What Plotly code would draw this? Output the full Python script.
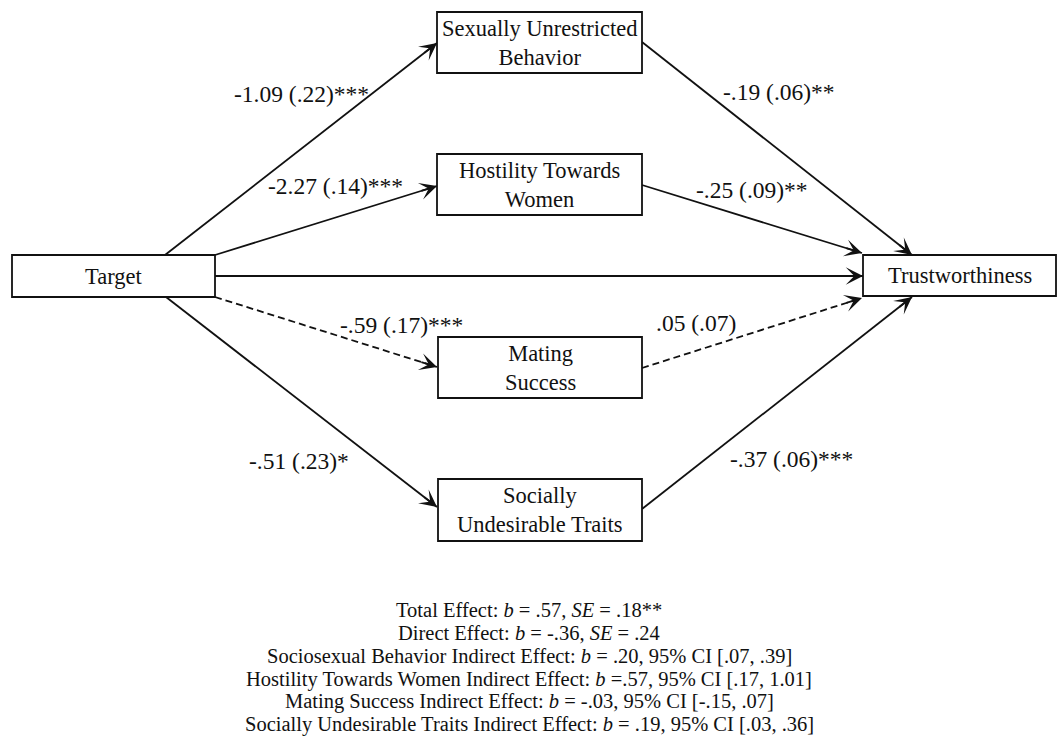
import plotly.graph_objects as go

# ---------------- data ----------------
node_names = ["Target", "Sexually Unrestricted<br>Behavior", "Hostility Towards<br>Women",
              "Mating<br>Success", "Socially<br>Undesirable Traits", "Trustworthiness"]
node_keys = ["T", "SUB", "HTW", "MS", "SUT", "TW"]

edge_from = ["T", "T", "T", "T", "T", "SUB", "HTW", "MS", "SUT"]
edge_to = ["SUB", "HTW", "TW", "MS", "SUT", "TW", "TW", "TW", "TW"]
edge_significant = [True, True, True, False, True, True, True, False, True]

path_labels = ["-1.09 (.22)***", "-2.27 (.14)***", "-.59 (.17)***", "-.51 (.23)*",
               "-.19 (.06)**", "-.25 (.09)**", ".05 (.07)", "-.37 (.06)***"]

effect_lines = [
    "Total Effect: <i>b</i> = .57, <i>SE</i> = .18**",
    "Direct Effect: <i>b</i> = -.36, <i>SE</i> = .24",
    "Sociosexual Behavior Indirect Effect: <i>b</i> = .20, 95% CI [.07, .39]",
    "Hostility Towards Women Indirect Effect: <i>b</i> =.57, 95% CI [.17, 1.01]",
    "Mating Success Indirect Effect: <i>b</i> = -.03, 95% CI [-.15, .07]",
    "Socially Undesirable Traits Indirect Effect: <i>b</i> = .19, 95% CI [.03, .36]",
]

# ---------------- layout geometry (pixels) ----------------
W, H = 1058, 737
boxes = {
    "T": (12, 255, 215, 297),
    "SUB": (437, 12, 642, 73),
    "HTW": (437, 154, 642, 215),
    "MS": (438, 337, 642, 398),
    "SUT": (438, 479, 642, 541),
    "TW": (863, 255, 1056, 296),
}
edge_geom = [
    ((165, 255), (437, 43)),
    ((215, 255), (437, 186)),
    ((215, 276), (863, 276)),
    ((215, 297), (437, 367)),
    ((166, 297), (437, 507)),
    ((642, 42), (912, 255)),
    ((642, 185), (862, 253)),
    ((642, 368), (862, 298)),
    ((642, 509), (912, 297)),
]
label_pos = [(301, 94), (335, 186), (401, 325), (299, 461),
             (779, 92), (752, 190), (696, 323), (791, 459)]
effect_x = 529
effect_y = [610, 633, 656, 679, 701, 724]

FONT = "Liberation Serif"
INK = "#111111"
LW = 1.8

fig = go.Figure()
fig.add_trace(go.Scatter(x=[0, W], y=[0, H], mode="markers",
                         marker=dict(opacity=0), hoverinfo="skip", showlegend=False))

shapes = []
annotations = []

# edges
for (tail, tip), sig in zip(edge_geom, edge_significant):
    shapes.append(dict(type="line", xref="x", yref="y",
                       x0=tail[0], y0=tail[1], x1=tip[0], y1=tip[1],
                       line=dict(color=INK, width=LW,
                                 dash="solid" if sig else "7px,4px")))
    dx, dy = tip[0] - tail[0], tip[1] - tail[1]
    L = (dx ** 2 + dy ** 2) ** 0.5
    back = 18
    annotations.append(dict(x=tip[0], y=tip[1], xref="x", yref="y",
                            ax=tip[0] - dx / L * back, ay=tip[1] - dy / L * back,
                            axref="x", ayref="y", text="", showarrow=True,
                            arrowhead=3, arrowsize=1.6, arrowwidth=LW,
                            arrowcolor=INK, standoff=0))

# boxes
for key, name in zip(node_keys, node_names):
    x0, y0, x1, y1 = boxes[key]
    shapes.append(dict(type="rect", xref="x", yref="y", x0=x0, y0=y0, x1=x1, y1=y1,
                       line=dict(color=INK, width=LW), fillcolor="white"))
    annotations.append(dict(x=(x0 + x1) / 2, y=(y0 + y1) / 2, xref="x", yref="y",
                            text=name, showarrow=False,
                            font=dict(family=FONT, size=22.5, color=INK),
                            xanchor="center", yanchor="middle"))

# path coefficient labels
for txt, (lx, ly) in zip(path_labels, label_pos):
    annotations.append(dict(x=lx, y=ly, xref="x", yref="y", text=txt, showarrow=False,
                            font=dict(family=FONT, size=23.5, color=INK),
                            xanchor="center", yanchor="middle"))

# effects text
for txt, ey in zip(effect_lines, effect_y):
    annotations.append(dict(x=effect_x, y=ey, xref="x", yref="y", text=txt, showarrow=False,
                            font=dict(family=FONT, size=20.5, color=INK),
                            xanchor="center", yanchor="middle"))

fig.update_layout(
    width=W, height=H,
    margin=dict(l=0, r=0, t=0, b=0),
    paper_bgcolor="white", plot_bgcolor="white",
    xaxis=dict(range=[0, W], visible=False, fixedrange=True),
    yaxis=dict(range=[H, 0], visible=False, fixedrange=True),
    shapes=shapes, annotations=annotations,
    showlegend=False,
)

fig.write_html("out.html", config={"displayModeBar": False},
               post_script="document.body.style.margin='0';")
